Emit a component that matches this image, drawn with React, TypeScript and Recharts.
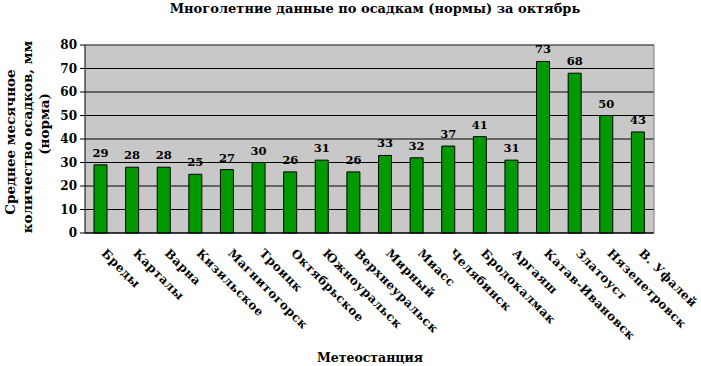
import React from 'react';
import { BarChart, Bar, XAxis, YAxis, CartesianGrid, LabelList } from 'recharts';

const stations = [
  'Бреды', 'Карталы', 'Варна', 'Кизильское', 'Магнитогорск', 'Троицк',
  'Октябрьское', 'Южноуральск', 'Верхнеуральск', 'Мирный', 'Миасс',
  'Челябинск', 'Бродокалмак', 'Аргаяш', 'Катав-Ивановск', 'Златоуст',
  'Нязепетровск', 'В. Уфалей',
];
const values = [29, 28, 28, 25, 27, 30, 26, 31, 26, 33, 32, 37, 41, 31, 73, 68, 50, 43];
const yTicks = [0, 10, 20, 30, 40, 50, 60, 70, 80];
const boundaryTicks = [0, 1, 2, 3, 4, 5, 6, 7, 8, 9, 10, 11, 12, 13, 14, 15, 16, 17, 18];

const title = 'Многолетние данные по осадкам (нормы) за октябрь';
const yLabelLines = ['Среднее месячное', 'количество осадков, мм', '(норма)'];
const xLabel = 'Метеостанция';

const data = stations.map((s, i) => ({ station: s, value: values[i] }));

const FONT = 'DejaVu Serif';

function StationTick(props: any) {
  const { x, y, payload } = props;
  return (
    <g transform={`translate(${x},${y + 16})`}>
      <text
        transform="rotate(45)"
        textAnchor="start"
        style={{ fontFamily: FONT, fontSize: 12, fontWeight: 'bold', letterSpacing: 0.5 }}
        fill="#000"
      >
        {payload.value}
      </text>
    </g>
  );
}

const txt = { fontFamily: FONT, fontWeight: 'bold' as const };

export default function App() {
  return (
    <div style={{ position: 'absolute', left: 0, top: 0, width: 701, height: 366, background: '#fff', fontFamily: FONT }}>
      <BarChart width={701} height={366} data={data} margin={{ top: 0, right: 0, bottom: 0, left: 0 }} style={{ fontFamily: FONT }}>
        <CartesianGrid xAxisId="cat" yAxisId="l" vertical={false} stroke="#000" fill="#C8C8C8" fillOpacity={1} />
        <XAxis
          xAxisId="top"
          orientation="top"
          dataKey="station"
          height={45}
          tick={false}
          tickLine={false}
          axisLine={{ stroke: '#808080' }}
        />
        <XAxis
          xAxisId="b"
          type="number"
          domain={[0, 18]}
          ticks={boundaryTicks}
          interval={0}
          allowDataOverflow
          height={5}
          tick={false}
          tickSize={5}
          axisLine={{ stroke: '#000' }}
          tickLine={{ stroke: '#000' }}
        />
        <XAxis
          xAxisId="cat"
          dataKey="station"
          height={128}
          axisLine={false}
          tickLine={false}
          tickSize={0}
          tickMargin={0}
          interval={0}
          tick={<StationTick />}
        />
        <YAxis
          yAxisId="l"
          width={85}
          domain={[0, 80]}
          ticks={yTicks}
          interval={0}
          tickSize={5}
          tickMargin={3}
          axisLine={{ stroke: '#000' }}
          tickLine={{ stroke: '#000' }}
          tick={{ fill: '#000', fontSize: 12, style: { ...txt } }}
        />
        <YAxis
          yAxisId="r"
          orientation="right"
          width={47}
          domain={[0, 80]}
          tick={false}
          tickLine={false}
          axisLine={{ stroke: '#808080' }}
        />
        <Bar
          xAxisId="cat"
          yAxisId="l"
          dataKey="value"
          fill="#009900"
          stroke="#000"
          strokeWidth={1}
          barSize={13}
          isAnimationActive={false}
        >
          <LabelList
            dataKey="value"
            position="top"
            offset={8}
            fill="#000"
            fontSize={11.5}
            style={{ ...txt }}
          />
        </Bar>
      </BarChart>
      <svg
        width={701}
        height={366}
        style={{ position: 'absolute', left: 0, top: 0, pointerEvents: 'none' }}
      >
        <text x={375} y={13} textAnchor="middle" style={{ ...txt, fontSize: 13 }} fill="#000">
          {title}
        </text>
        <text transform="translate(15,142) rotate(-90)" textAnchor="middle" style={{ ...txt, fontSize: 13.5 }} fill="#000">
          {yLabelLines[0]}
        </text>
        <text transform="translate(32,137) rotate(-90)" textAnchor="middle" style={{ ...txt, fontSize: 13.5 }} fill="#000">
          {yLabelLines[1]}
        </text>
        <text transform="translate(49,124) rotate(-90)" textAnchor="middle" style={{ ...txt, fontSize: 13.5 }} fill="#000">
          {yLabelLines[2]}
        </text>
        <text x={370} y={362} textAnchor="middle" style={{ ...txt, fontSize: 12.5 }} fill="#000">
          {xLabel}
        </text>
      </svg>
    </div>
  );
}
